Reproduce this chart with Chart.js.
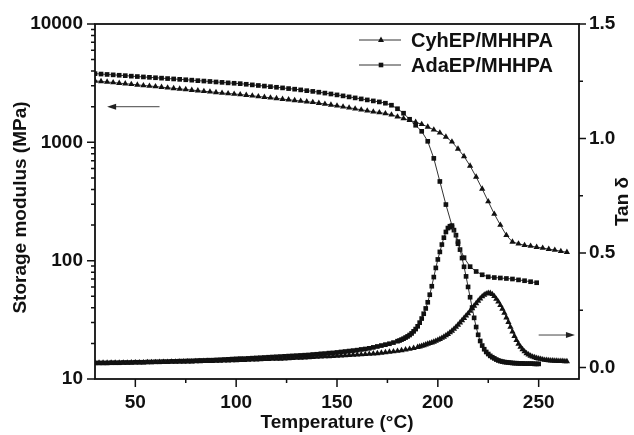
<!DOCTYPE html>
<html>
<head>
<meta charset="utf-8">
<script src="https://cdn.jsdelivr.net/npm/chart.js@4.4.1/dist/chart.umd.min.js"></script>
<style>
  html, body { margin: 0; background: #fff; }
</style>
</head>
<body>
<canvas id="dma" width="634" height="435"></canvas>
<script>
// series names (legend)
const seriesNames = ['CyhEP/MHHPA', 'AdaEP/MHHPA'];

// storage modulus (MPa), left log axis
const modTempsCyh = [30,33,36,39,42,45,48,51,54,57,60,63,66,69,72,75,78,81,84,87,90,93,96,99,102,105,108,111,114,117,
  120,123,126,129,132,135,138,141,144,147,150,153,156,159,162,165,168,171,174,177,180,183,186,189,192,195,198,201,204,207,
  210,213,216,219,222,225,228,231,234,237,240,243,246,249,252,255,258,261,264];
const modCyh = [3307,3269,3237,3200,3162,3132,3095,3059,3023,2994,
  2960,2925,2891,2857,2829,2797,2764,2732,2700,2674,
  2642,2612,2586,2562,2537,2502,2473,2440,2411,2379,
  2351,2319,2292,2261,2235,2204,2179,2145,2107,2071,
  2035,1999,1960,1923,1885,1849,1813,1785,1751,1710,
  1645,1588,1536,1483,1421,1351,1276,1204,1113,1010,
  881,761,632,510,404,316,248,200,164,144,
  139,135,133,130,128,125,123,120,118];

const modTempsAda = [30,33,36,39,42,45,48,51,54,57,60,63,66,69,72,75,78,81,84,87,90,93,96,99,102,105,108,111,114,117,
  120,123,126,129,132,135,138,141,144,147,150,153,156,159,162,165,168,171,174,177,180,183,186,189,192,195,198,201,204,207,
  210,213,216,219,222,225,228,231,234,237,240,243,246,249];
const modAda = [3806,3776,3747,3718,3689,3661,3625,3597,3569,3542,
  3514,3487,3459,3433,3406,3379,3353,3320,3295,3269,
  3237,3212,3181,3156,3132,3095,3059,3023,2988,2953,
  2919,2885,2846,2813,2775,2732,2695,2653,2607,2562,
  2517,2469,2421,2374,2328,2283,2239,2196,2141,2059,
  1923,1762,1566,1394,1239,1020,732,467,298,198,
  139,106,89,81,76,73,72,71.4,70.7,70,
  68.8,67.7,66.4,65.1];

// tan delta, right axis
const tanTempsCyh = [30,32,34,36,38,40,42,44,46,48,50,52,54,56,58,60,62,64,66,68,
  70,72,74,76,78,80,82,84,86,88,90,92,94,96,98,100,102,104,106,108,
  110,112,114,116,118,120,122,124,126,128,130,132,134,136,138,140,142,144,146,148,
  150,152,154,156,158,160,162,164,166,168,170,172,174,176,178,180,182,184,186,188,190,
  191,192,193,194,195,196,197,198,199,200,201,202,203,204,205,206,207,208,209,210,
  211,212,213,214,215,216,217,218,219,220,221,222,223,224,225,226,227,228,229,230,
  231,232,233,234,235,236,237,238,239,240,241,242,243,244,245,246,247,248,249,250,
  251,252,253,254,255,256,257,258,259,260,261,262,263,264];
const tanCyh = [.020,.020,.020,.020,.020,.021,.021,.021,.021,.022,
  .022,.022,.022,.023,.023,.023,.024,.024,.024,.025,
  .025,.025,.026,.026,.026,.027,.027,.028,.028,.028,
  .029,.029,.030,.030,.031,.031,.032,.032,.033,.034,
  .034,.035,.036,.036,.037,.038,.038,.039,.040,.041,
  .042,.042,.043,.044,.045,.046,.047,.048,.049,.050,
  .051,.052,.053,.054,.055,.056,.057,.058,.059,.061,
  .062,.064,.066,.068,.070,.072,.075,.078,.081,.085,.089,
  .091,.094,.097,.100,.103,.106,.109,.112,.116,.120,
  .124,.129,.134,.140,.146,.153,.160,.168,.177,.186,
  .196,.206,.216,.226,.236,.247,.258,.269,.280,.291,
  .301,.310,.317,.322,.325,.325,.320,.311,.299,.287,
  .272,.256,.238,.218,.198,.177,.156,.137,.119,.103,
  .090,.079,.070,.062,.056,.051,.047,.044,.041,.039,
  .037,.035,.033,.032,.031,.030,.030,.029,.029,.028,
  .028,.028,.027,.027];

const tanTempsAda = [30,32,34,36,38,40,42,44,46,48,50,52,54,56,58,60,62,64,66,68,
  70,72,74,76,78,80,82,84,86,88,90,92,94,96,98,100,102,104,106,108,
  110,112,114,116,118,120,122,124,126,128,130,132,134,136,138,140,142,144,146,148,
  150,152,154,156,158,160,162,164,166,168,170,172,174,176,178,180,
  181,182,183,184,185,186,187,188,189,190,191,192,193,194,195,196,197,198,199,200,
  201,202,203,204,205,206,207,208,209,210,211,212,213,214,215,216,217,218,219,220,
  221,222,223,224,225,226,227,228,229,230,231,232,233,234,235,236,237,238,239,240,
  241,242,243,244,245,246,247,248,249,250];
const tanAda = [.020,.020,.020,.020,.021,.021,.021,.022,.022,.022,
  .023,.023,.023,.024,.024,.025,.025,.026,.026,.027,
  .027,.028,.028,.029,.029,.030,.031,.031,.032,.032,
  .033,.034,.035,.036,.037,.038,.039,.039,.040,.041,
  .042,.043,.044,.045,.046,.047,.048,.049,.050,.051,
  .052,.053,.054,.055,.057,.058,.060,.061,.063,.064,
  .066,.068,.070,.072,.074,.076,.079,.081,.084,.088,
  .092,.096,.100,.104,.109,.115,
  .118,.122,.126,.131,.136,.142,.149,.158,.168,.180,
  .196,.214,.235,.258,.285,.318,.355,.395,.435,.472,
  .505,.537,.567,.592,.609,.617,.613,.600,.578,.550,
  .515,.478,.440,.398,.352,.307,.262,.217,.177,.143,
  .116,.096,.080,.068,.059,.051,.045,.040,.035,.031,
  .028,.026,.024,.023,.022,.021,.020,.019,.019,.018,
  .018,.018,.017,.017,.017,.017,.017,.016,.016,.016];

// axis ticks
const xTicks = [50, 100, 150, 200, 250];
const xMinor = [75, 125, 175, 225];
const modTicks = [10, 100, 1000, 10000];
const tanTicks = [0, 0.5, 1.0, 1.5];
const tanMinor = [0.25, 0.75, 1.25];

// the two arrows pointing to each axis: [from T, to T, value]
const modArrow = [62, 36, 2000];
const tanArrow = [250, 268, 0.142];

const FONT = '"Liberation Sans", Arial, sans-serif';
const INK = '#111';

function pts(xs, ys) {
  return xs.map((x, i) => ({ x: x, y: ys[i] }));
}

function series(data, style, axis, r) {
  return {
    data: data,
    yAxisID: axis,
    showLine: true,
    borderColor: '#333',
    borderWidth: 1,
    backgroundColor: INK,
    pointStyle: style,
    pointRadius: r,
    pointBorderWidth: 0,
    pointBackgroundColor: INK
  };
}

function marker(ctx, style, x, y) {
  ctx.beginPath();
  if (style === 'rect') {
    ctx.rect(x - 2.3, y - 2.3, 4.6, 4.6);
  } else {
    ctx.moveTo(x, y - 3.5);
    ctx.lineTo(x + 3, y + 2);
    ctx.lineTo(x - 3, y + 2);
    ctx.closePath();
  }
  ctx.fill();
}

function arrow(ctx, x1, x2, y) {
  const dir = Math.sign(x2 - x1);
  ctx.strokeStyle = '#444';
  ctx.lineWidth = 1;
  ctx.beginPath();
  ctx.moveTo(x1, y);
  ctx.lineTo(x2 - dir * 6, y);
  ctx.stroke();
  ctx.fillStyle = '#222';
  ctx.beginPath();
  ctx.moveTo(x2, y);
  ctx.lineTo(x2 - dir * 9, y - 3);
  ctx.lineTo(x2 - dir * 9, y + 3);
  ctx.closePath();
  ctx.fill();
}

const decor = {
  id: 'decor',
  afterDraw(chart) {
    const ctx = chart.ctx;
    const a = chart.chartArea;
    const sx = chart.scales.x, sy = chart.scales.y, s2 = chart.scales.y2;
    ctx.save();

    // frame
    ctx.strokeStyle = INK;
    ctx.lineWidth = 1.8;
    ctx.strokeRect(a.left, a.top, a.right - a.left, a.bottom - a.top);

    // tick marks
    ctx.lineWidth = 1.5;
    ctx.beginPath();
    xTicks.forEach(v => { const p = sx.getPixelForValue(v); ctx.moveTo(p, a.bottom); ctx.lineTo(p, a.bottom + 8); });
    xMinor.forEach(v => { const p = sx.getPixelForValue(v); ctx.moveTo(p, a.bottom); ctx.lineTo(p, a.bottom + 4); });
    modTicks.forEach(v => { const p = sy.getPixelForValue(v); ctx.moveTo(a.left, p); ctx.lineTo(a.left - 8, p); });
    for (let d = 10; d < 10000; d *= 10) {
      for (let k = 2; k <= 9; k++) {
        const p = sy.getPixelForValue(k * d);
        ctx.moveTo(a.left, p); ctx.lineTo(a.left - 4, p);
      }
    }
    tanTicks.forEach(v => { const p = s2.getPixelForValue(v); ctx.moveTo(a.right, p); ctx.lineTo(a.right + 7, p); });
    tanMinor.forEach(v => { const p = s2.getPixelForValue(v); ctx.moveTo(a.right, p); ctx.lineTo(a.right + 4, p); });
    ctx.stroke();

    // axis titles
    ctx.fillStyle = INK;
    ctx.font = 'bold 19px ' + FONT;
    ctx.textAlign = 'center';
    ctx.textBaseline = 'middle';
    ctx.fillText('Temperature (°C)', (a.left + a.right) / 2, 423);
    ctx.save();
    ctx.translate(21, (a.top + a.bottom) / 2 + 6);
    ctx.rotate(-Math.PI / 2);
    ctx.fillText('Storage modulus (MPa)', 0, 0);
    ctx.restore();
    ctx.save();
    ctx.translate(623, (a.top + a.bottom) / 2);
    ctx.rotate(-Math.PI / 2);
    ctx.fillText('Tan δ', 0, 0);
    ctx.restore();

    // legend
    const styles = ['triangle', 'rect'];
    ctx.font = 'bold 20px ' + FONT;
    seriesNames.forEach((name, i) => {
      const y = 40 + i * 25;
      ctx.strokeStyle = '#333';
      ctx.lineWidth = 1;
      ctx.beginPath();
      ctx.moveTo(359, y); ctx.lineTo(401, y);
      ctx.stroke();
      ctx.fillStyle = INK;
      marker(ctx, styles[i], 381, y);
      ctx.textAlign = 'left';
      ctx.fillText(name, 411, y + 1);
    });

    // arrows
    arrow(ctx, sx.getPixelForValue(modArrow[0]), sx.getPixelForValue(modArrow[1]), sy.getPixelForValue(modArrow[2]));
    arrow(ctx, sx.getPixelForValue(tanArrow[0]), sx.getPixelForValue(tanArrow[1]), s2.getPixelForValue(tanArrow[2]));

    ctx.restore();
  }
};

const tickFont = { family: FONT, size: 19, weight: 'bold' };

new Chart(document.getElementById('dma').getContext('2d'), {
  type: 'scatter',
  data: {
    datasets: [
      series(pts(modTempsCyh, modCyh), 'triangle', 'y', 3.6),
      series(pts(modTempsAda, modAda), 'rect', 'y', 3.3),
      series(pts(tanTempsCyh, tanCyh), 'triangle', 'y2', 3.6),
      series(pts(tanTempsAda, tanAda), 'rect', 'y2', 3.3)
    ]
  },
  options: {
    responsive: false,
    animation: false,
    layout: { padding: { top: 24, left: 0, right: 0, bottom: 0 } },
    plugins: { legend: { display: false }, tooltip: { enabled: false } },
    scales: {
      x: {
        type: 'linear', min: 30, max: 270,
        grid: { display: false, drawTicks: false },
        border: { display: false },
        ticks: { padding: 12, font: tickFont, color: INK },
        afterBuildTicks: s => { s.ticks = xTicks.map(v => ({ value: v })); },
        afterFit: s => { s.height = 56; }
      },
      y: {
        type: 'logarithmic', position: 'left', min: 10, max: 10000,
        grid: { display: false, drawTicks: false },
        border: { display: false },
        ticks: { padding: 12, font: tickFont, color: INK, callback: v => String(v) },
        afterBuildTicks: s => { s.ticks = modTicks.map(v => ({ value: v })); },
        afterFit: s => { s.width = 95; }
      },
      y2: {
        type: 'linear', position: 'right', min: -0.05, max: 1.5,
        grid: { display: false, drawTicks: false },
        border: { display: false },
        ticks: { padding: 10, font: tickFont, color: INK, callback: v => v.toFixed(1) },
        afterBuildTicks: s => { s.ticks = tanTicks.map(v => ({ value: v })); },
        afterFit: s => { s.width = 55; }
      }
    }
  },
  plugins: [decor]
});
</script>
</body>
</html>
